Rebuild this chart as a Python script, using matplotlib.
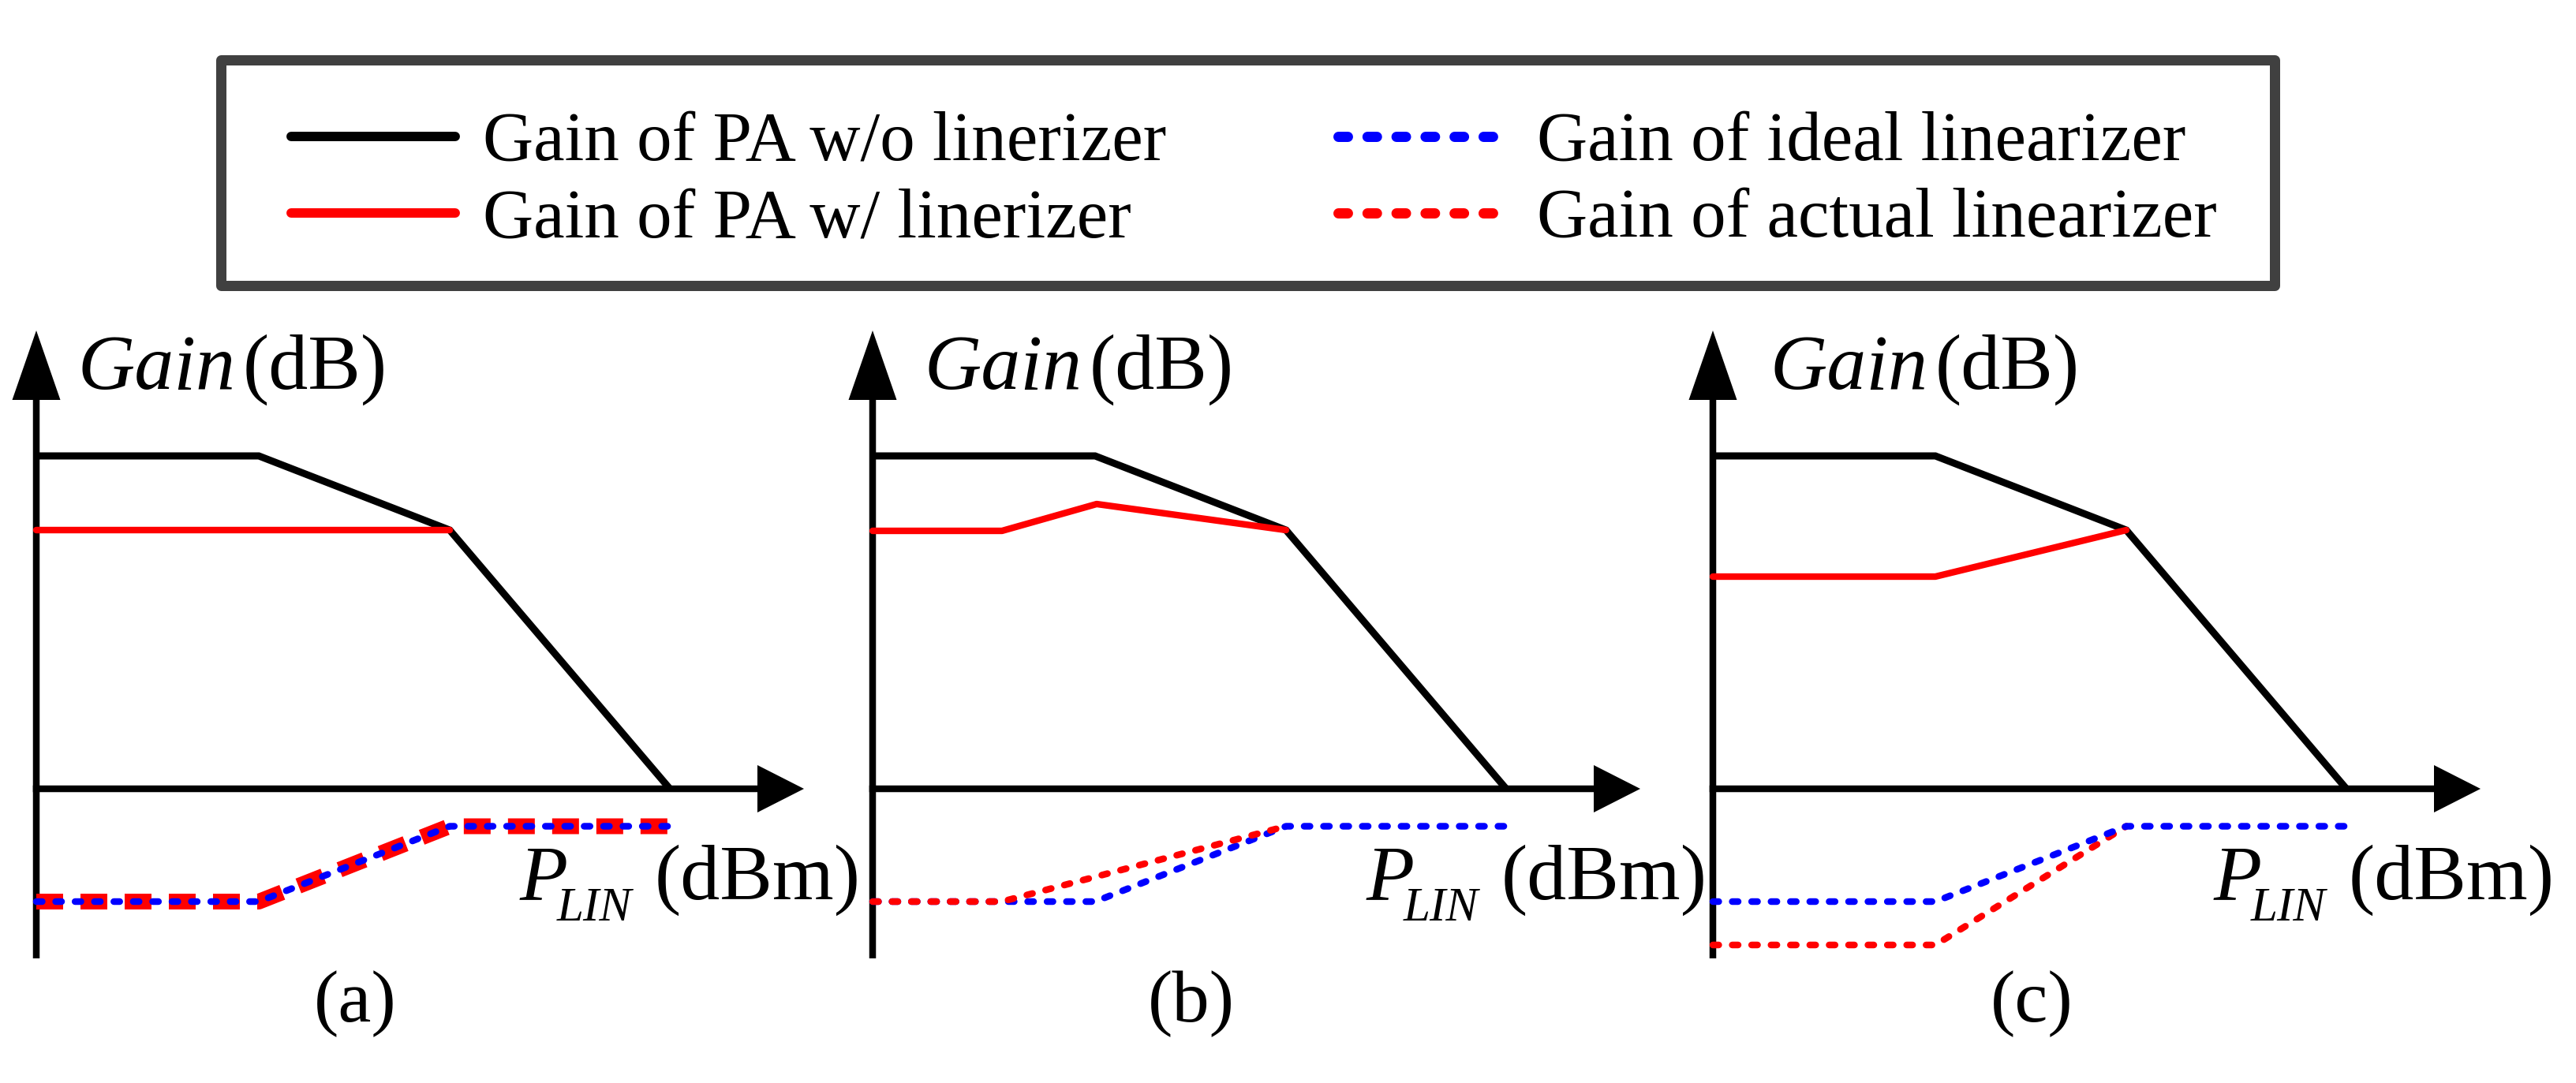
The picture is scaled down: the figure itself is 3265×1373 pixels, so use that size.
import matplotlib
matplotlib.use('Agg')
import matplotlib.pyplot as plt
from matplotlib.patches import Rectangle

plt.rcParams['font.family'] = ['Liberation Serif', 'DejaVu Serif']

# ---------------- data (arbitrary units) ----------------
panel_labels = ['(a)', '(b)', '(c)']
legend_labels = ['Gain of PA w/o linerizer', 'Gain of PA w/ linerizer',
                 'Gain of ideal linearizer', 'Gain of actual linearizer']

# PA without linearizer (same in all panels)
pa_pin = [0.0, 2.82, 5.24, 8.03]
pa_gain = [4.22, 4.22, 3.28, 0.0]

# PA with linearizer, per panel
pa_lin_pin = [[0.0, 5.24], [0.0, 1.64, 2.84, 5.24], [0.0, 2.82, 5.24]]
pa_lin_gain = [[3.28, 3.28], [3.27, 3.27, 3.61, 3.28], [2.69, 2.69, 3.28]]

# ideal linearizer (same in all panels)
ideal_pin = [0.0, 2.82, 5.24, 8.04]
ideal_gain = [-1.43, -1.43, -0.475, -0.475]

# actual linearizer, per panel
actual_pin = [[0.0, 2.82, 5.24, 8.04], [0.0, 1.64, 5.24], [0.0, 2.82, 5.24]]
actual_gain = [[-1.43, -1.43, -0.475, -0.475], [-1.43, -1.43, -0.475],
               [-1.98, -1.98, -0.475]]

# ---------------- layout ----------------
W, H, DPI = 3265, 1373, 100
fig = plt.figure(figsize=(W / DPI, H / DPI), dpi=DPI)
fig.patch.set_facecolor('white')

origins_px = [46, 1106, 2171]
gain_label_x = [0.52, 0.65, 0.72]
plin_label_x = [6.13, 6.26, 6.35]
red_on_top = [False, True, False]

BLUE = '#0000ff'
RED = '#ff0000'

for i in range(3):
    ox = origins_px[i]
    left_px = ox - 46
    ax = fig.add_axes([left_px / W, 0, 1060 / W, 1])
    ax.set_xlim(-0.46, 10.14)
    ax.set_ylim(-3.73, 10.0)
    ax.axis('off')

    # axes with arrow heads
    ax.arrow(0, -2.15, 0, 7.96, width=0.085, head_width=0.61, head_length=0.88,
             length_includes_head=True, color='k', lw=0, zorder=3)
    ax.arrow(-0.0425, 0, 9.7725, 0, width=0.085, head_width=0.60, head_length=0.59,
             length_includes_head=True, color='k', lw=0, zorder=3)

    # PA gain curves
    ax.plot(pa_pin, pa_gain, color='k', lw=6.5, solid_capstyle='butt',
            solid_joinstyle='miter', zorder=4, clip_on=False)
    ax.plot(pa_lin_pin[i], pa_lin_gain[i], color=RED, lw=6.0,
            solid_capstyle='round', solid_joinstyle='round', zorder=5, clip_on=False)

    # linearizer curves
    if i == 0:
        ax.plot(actual_pin[i], actual_gain[i], color=RED, lw=14.4,
                dashes=(1.7, 1.1), dash_capstyle='butt', dash_joinstyle='round',
                zorder=5, clip_on=False)
    else:
        ax.plot(actual_pin[i], actual_gain[i], color=RED, lw=6.1,
                dashes=(0.88, 2.02), dash_capstyle='round', dash_joinstyle='round',
                zorder=7 if red_on_top[i] else 5, clip_on=False)
    ax.plot(ideal_pin, ideal_gain, color=BLUE, lw=6.1, dashes=(0.88, 2.02),
            dash_capstyle='round', dash_joinstyle='round', zorder=6, clip_on=False)

    # axis labels
    gx = gain_label_x[i]
    ax.text(gx, 5.07, 'Gain', fontsize=72, fontstyle='italic', ha='left',
            va='baseline')
    ax.text(gx + 2.10, 5.07, '(dB)', fontsize=72, ha='left', va='baseline')
    px = plin_label_x[i]
    ax.text(px, -1.40, 'P', fontsize=72, fontstyle='italic', ha='left',
            va='baseline')
    ax.text(px + 0.47, -1.67, 'LIN', fontsize=44, fontstyle='italic', ha='left',
            va='baseline')
    ax.text(px + 1.71, -1.40, '(dBm)', fontsize=72, ha='left', va='baseline')

    # panel label
    ax.text(4.04, -2.95, panel_labels[i], fontsize=68, ha='center', va='baseline')

# ---------------- legend (drawn in pixel coordinates) ----------------
axl = fig.add_axes([0, 0, 1, 1], zorder=10)
axl.set_xlim(0, W)
axl.set_ylim(H, 0)
axl.axis('off')
axl.patch.set_alpha(0)

axl.add_patch(Rectangle((279.5, 75.5), 2603, 286, facecolor='white',
                        edgecolor='#404040', lw=9.36, joinstyle='round'))

rows_y = [173, 270]
rows_base = [203, 300]
handle_styles = [
    dict(color='k', lw=8.6, solid_capstyle='round'),
    dict(color=RED, lw=8.6, solid_capstyle='round'),
    dict(color=BLUE, lw=9.36, dashes=(0.92, 1.91), dash_capstyle='round'),
    dict(color=RED, lw=9.36, dashes=(0.92, 1.91), dash_capstyle='round'),
]
handle_x = [(369, 577), (369, 577), (1695.5, 1891.5), (1695.5, 1891.5)]
text_x = [612, 612, 1948, 1948]
row_of = [0, 1, 0, 1]
for k, lab in enumerate(legend_labels):
    r = row_of[k]
    x0, x1 = handle_x[k]
    axl.plot([x0, x1], [rows_y[r], rows_y[r]], **handle_styles[k])
    axl.text(text_x[k], rows_base[r], lab, fontsize=64, ha='left', va='baseline')

fig.savefig('out.png', dpi=DPI, facecolor='white')
